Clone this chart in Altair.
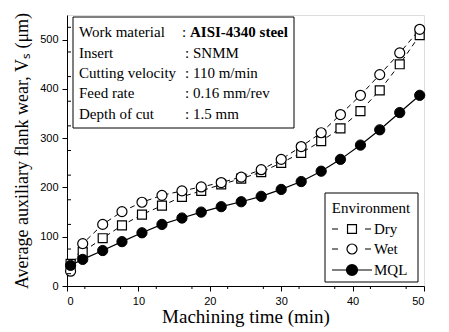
import altair as alt
import pandas as pd

# ---- data ----
time_min = [0.5, 2.2, 5.0, 7.7, 10.5, 13.3, 16.1, 18.8, 21.6, 24.4, 27.2, 30.0, 32.8, 35.6, 38.3, 41.1, 43.8, 46.6, 49.4]
dry = [45, 69, 97, 123, 145, 163, 181, 193, 206, 218, 231, 250, 270, 294, 320, 355, 397, 450, 509]
wet = [30, 86, 125, 151, 170, 184, 193, 201, 210, 221, 236, 257, 283, 311, 348, 387, 429, 473, 521]
mql = [42, 54, 72, 90, 108, 125, 138, 150, 161, 171, 182, 196, 212, 233, 257, 286, 317, 352, 387]

x_major = [0, 5, 10, 15, 20, 25, 30, 35, 40, 45, 50]
x_minor = [2.5, 7.5, 12.5, 17.5, 22.5, 27.5, 32.5, 37.5, 42.5, 47.5]
y_major = [0, 50, 100, 150, 200, 250, 300, 350, 400, 450, 500, 550]
y_minor = [25, 75, 125, 175, 225, 275, 325, 375, 425, 475, 525]

info_labels = ["Work material", "Insert", "Cutting velocity", "Feed rate", "Depth of cut"]
info_values = ["AISI-4340 steel", "SNMM", "110 m/min", "0.16 mm/rev", "1.5 mm"]

legend_title = "Environment"
legend_items = ["Dry", "Wet", "MQL"]

W, H = 357, 271
SERIF = "Liberation Serif"
SANS = "Liberation Sans"

df_dry = pd.DataFrame({"time": time_min, "wear": dry})
df_wet = pd.DataFrame({"time": time_min, "wear": wet})
df_mql = pd.DataFrame({"time": time_min, "wear": mql})

xs = alt.Scale(domain=[0, 50], nice=False, zero=False)
ys = alt.Scale(domain=[0, 550], nice=False, zero=False)

x_axis = alt.Axis(values=x_major, title="Machining time (min)", grid=False,
                  tickSize=5, labelPadding=4, titleFont=SERIF, titleFontSize=19,
                  titleFontWeight="normal", titlePadding=1, labelFont=SANS,
                  labelFontSize=11, labelColor="black", titleColor="black",
                  domainColor="black", tickColor="black")
y_axis = alt.Axis(values=y_major, title="Average auxiliary flank wear, Vₛ (μm)", grid=False,
                  tickSize=5, labelPadding=4, titleFont=SERIF, titleFontSize=18,
                  titleFontWeight="normal", titlePadding=8, labelFont=SANS,
                  labelFontSize=11, labelColor="black", titleColor="black",
                  domainColor="black", tickColor="black")

X = alt.X("time:Q", scale=xs, axis=x_axis)
Y = alt.Y("wear:Q", scale=ys, axis=y_axis)

line_dry = alt.Chart(df_dry).mark_line(color="black", strokeWidth=1, strokeDash=[5, 4]).encode(x=X, y=Y)
line_wet = alt.Chart(df_wet).mark_line(color="black", strokeWidth=1, strokeDash=[5, 4]).encode(x=X, y=Y)
line_mql = alt.Chart(df_mql).mark_line(color="black", strokeWidth=1.2).encode(x=X, y=Y)

pt_dry = alt.Chart(df_dry).mark_point(shape="square", size=80, filled=True, fill="white",
                                      stroke="black", strokeWidth=1.2, opacity=1).encode(x=X, y=Y)
pt_wet = alt.Chart(df_wet).mark_point(shape="circle", size=100, filled=True, fill="white",
                                      stroke="black", strokeWidth=1.2, opacity=1).encode(x=X, y=Y)
pt_mql = alt.Chart(df_mql).mark_point(shape="circle", size=105, filled=True, fill="black",
                                      stroke="black", strokeWidth=1, opacity=1).encode(x=X, y=Y)

# minor ticks (short)
xminor = alt.Chart(pd.DataFrame({"t": x_minor})).mark_rule(color="black", strokeWidth=1).encode(
    x=alt.X("t:Q", scale=xs), y=alt.value(H), y2=alt.value(H + 3))
yminor = alt.Chart(pd.DataFrame({"t": y_minor})).mark_rule(color="black", strokeWidth=1).encode(
    y=alt.Y("t:Q", scale=ys), x=alt.value(0), x2=alt.value(4))

# info box
box_df = pd.DataFrame({"a": [0]})
info_box = alt.Chart(box_df).mark_rect(fill="white", stroke="black", strokeWidth=1).encode(
    x=alt.value(6), x2=alt.value(227), y=alt.value(2), y2=alt.value(113))


def txt(s, x, y, align="left", bold=False):
    return alt.Chart(pd.DataFrame({"s": [s]})).mark_text(
        font=SERIF, fontSize=15, align=align, baseline="middle", color="black",
        fontWeight="bold" if bold else "normal"
    ).encode(text=alt.Text("s:N"), x=alt.value(x), y=alt.value(y))


info_layers = []
row_y = [17, 38, 58, 78, 99]
for i, (lab, val) in enumerate(zip(info_labels, info_values)):
    cx = 115 if i == 0 else 118
    info_layers.append(txt(lab, 12, row_y[i]))
    info_layers.append(txt(":", cx, row_y[i]))
    info_layers.append(txt(val, cx + 8, row_y[i], bold=(i == 0)))

# legend box
leg_layers = [
    alt.Chart(box_df).mark_rect(fill="white", stroke="black", strokeWidth=1).encode(
        x=alt.value(258), x2=alt.value(351), y=alt.value(178), y2=alt.value(267)),
    txt(legend_title, 304, 193, align="center"),
]
leg_y = [214, 234, 255]
for i, name in enumerate(legend_items):
    yy = leg_y[i]
    if name == "MQL":
        leg_layers.append(alt.Chart(box_df).mark_rule(color="black", strokeWidth=1.2).encode(
            x=alt.value(265), x2=alt.value(305), y=alt.value(yy)))
        leg_layers.append(alt.Chart(box_df).mark_point(shape="circle", size=105, filled=True,
                                                       fill="black", stroke="black", opacity=1).encode(
            x=alt.value(285), y=alt.value(yy)))
    else:
        for (a, b) in [(265, 271), (298, 304)]:
            leg_layers.append(alt.Chart(box_df).mark_rule(color="black", strokeWidth=1).encode(
                x=alt.value(a), x2=alt.value(b), y=alt.value(yy)))
        leg_layers.append(alt.Chart(box_df).mark_point(
            shape="square" if name == "Dry" else "circle", size=80 if name == "Dry" else 100,
            filled=True, fill="white", stroke="black", strokeWidth=1.2, opacity=1).encode(
            x=alt.value(285), y=alt.value(yy)))
    leg_layers.append(txt(name, 307, yy))

chart = alt.layer(
    line_dry, line_wet, line_mql, pt_dry, pt_wet, pt_mql, xminor, yminor,
    info_box, *info_layers, *leg_layers
).properties(
    width=W, height=H,
    autosize="none",
    padding={"left": 67, "top": 15, "right": 25, "bottom": 46},
).configure_view(stroke="#555", strokeWidth=1.5).configure_text(font=SERIF).configure(background="white")

chart.save("out.html", embed_options={"renderer": "svg", "actions": False})
